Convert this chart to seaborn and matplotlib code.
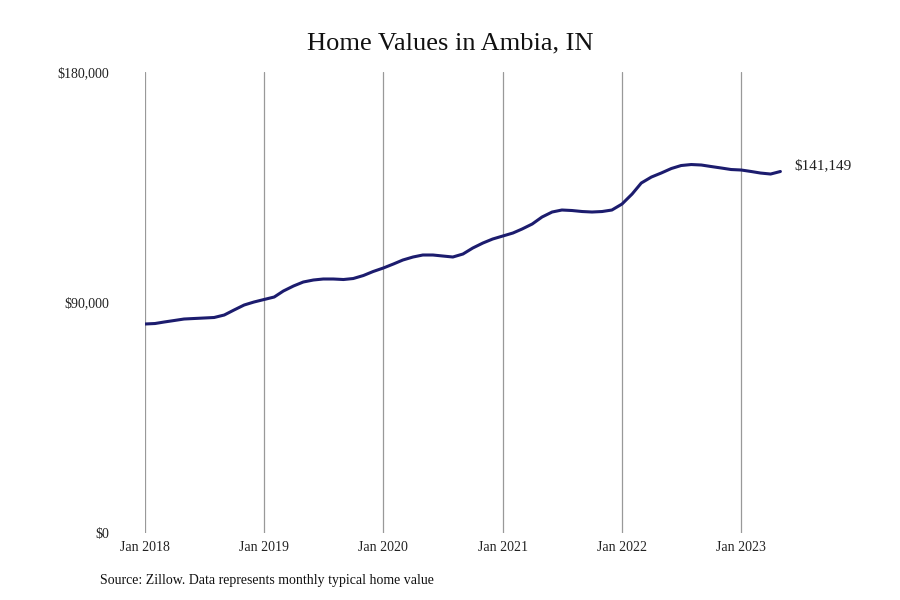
import pandas as pd
import seaborn as sns
import matplotlib.pyplot as plt
import matplotlib.dates as mdates
from matplotlib.ticker import FuncFormatter

# monthly typical home value, Jan 2018 - May 2023
months = pd.date_range("2018-01-01", "2023-05-01", freq="MS")
values = [
    81600, 81790, 82380, 82970, 83550, 83750, 83940, 84140, 85110, 87070, 89020, 90190,
    91170, 92140, 94480, 96440, 98000, 98780, 99170, 99170, 98970, 99360, 100530, 102100,
    103460, 105030, 106590, 107760, 108540, 108540, 108150, 107760, 108930, 111270, 113220, 114790,
    115960, 117130, 118690, 120640, 123370, 125330, 126110, 125910, 125520, 125330, 125520, 126110,
    128450, 132360, 136650, 138990, 140550, 142310, 143480, 143870, 143680, 143090, 142510, 141920,
    141730, 141140, 140550, 140160, 141149,
]
y_ticks = [0, 90000, 180000]
x_ticks = pd.date_range("2018-01-01", "2023-01-01", freq="YS")

df = pd.DataFrame({"date": months, "value": values})

sns.set_theme(style="white")
plt.rcParams["font.family"] = ["Liberation Serif", "DejaVu Serif"]

fig = plt.figure(figsize=(9, 6), dpi=100)
ax = fig.add_axes([0.161, 0.1117, 0.795, 0.7683])

sns.lineplot(data=df, x="date", y="value", ax=ax, color="#1c1c6e", linewidth=2.2)

ax.set_xlim(pd.Timestamp("2018-01-01"), pd.Timestamp("2024-01-01"))
ax.set_ylim(0, 180000)
ax.set_xticks(x_ticks)
ax.xaxis.set_major_formatter(mdates.DateFormatter("%b %Y"))
ax.set_yticks(y_ticks)
ax.yaxis.set_major_formatter(FuncFormatter(lambda v, p: f"${v:,.0f}"))
ax.grid(axis="x", color="#999999", linewidth=0.9)
ax.grid(axis="y", visible=False)
for s in ax.spines.values():
    s.set_visible(False)
ax.tick_params(axis="x", length=0, pad=6, labelsize=10, colors="#222222")
ax.tick_params(axis="y", length=0, pad=26, labelsize=10, colors="#222222")
ax.set_xlabel("")
ax.set_ylabel("")

# end label
last = df.iloc[-1]
ax.annotate(f"${last['value']:,.0f}", xy=(last["date"], last["value"]),
            xytext=(10, 4), textcoords="offset points", va="center", ha="left",
            fontsize=11, color="#222222")

fig.text(0.5, 0.927, "Home Values in Ambia, IN", ha="center", va="center",
         fontsize=19, color="#111111")
fig.text(0.111, 0.033, "Source: Zillow. Data represents monthly typical home value",
         ha="left", va="center", fontsize=10, color="#111111")

fig.savefig("out.png", dpi=100)
